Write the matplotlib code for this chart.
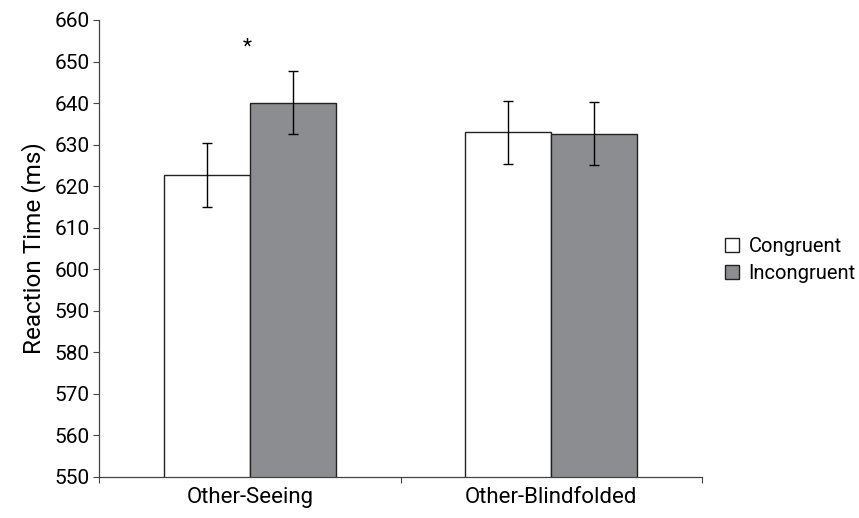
import numpy as np
import matplotlib.pyplot as plt
from matplotlib.patches import Patch

groups = ["Other-Seeing", "Other-Blindfolded"]
series = ["Congruent", "Incongruent"]
congruent = [622.7, 633.0]
incongruent = [640.1, 632.6]
congruent_err = [7.7, 7.6]
incongruent_err = [7.6, 7.6]
yticks = list(range(550, 661, 10))

plt.rcParams['font.family'] = ['Roboto', 'DejaVu Sans']

fig = plt.figure(figsize=(8.59, 5.18), dpi=100)
ax = fig.add_axes([0.1153, 0.0792, 0.7019, 0.8822])

x = np.arange(len(groups)) + 0.5
w = 0.286
ekw = dict(elinewidth=1.0, capthick=1.0, ecolor='black')
ax.bar(x - w / 2, congruent, w, color='white', edgecolor='#222222',
       linewidth=1.0, yerr=congruent_err, capsize=3.5, error_kw=ekw, zorder=2)
ax.bar(x + w / 2, incongruent, w, color='#8c8d90', edgecolor='#222222',
       linewidth=1.0, yerr=incongruent_err, capsize=3.5, error_kw=ekw, zorder=2)

ax.set_ylim(550, 660)
ax.set_xlim(0, 2)
ax.set_yticks(yticks)
ax.set_xticks(x)
ax.set_xticklabels(groups)
ax.set_xticks([0, 1, 2], minor=True)
ax.tick_params(axis='x', which='major', length=0, pad=7, labelsize=16)
ax.tick_params(axis='x', which='minor', length=4, width=0.8, color='#444444')
ax.tick_params(axis='y', length=4, width=0.8, color='#444444', labelsize=15, pad=3)
ax.spines['top'].set_visible(False)
ax.spines['right'].set_visible(False)
for s in ['left', 'bottom']:
    ax.spines[s].set_color('#444444')
    ax.spines[s].set_linewidth(0.9)
ax.set_ylabel("Reaction Time (ms)", fontsize=17.5, labelpad=6)

# significance marker
ax.text(x[0] - 0.01, 653.5, "*", ha='center', va='center', fontsize=15)

handles = [Patch(facecolor='white', edgecolor='#222222', label=series[0]),
           Patch(facecolor='#8c8d90', edgecolor='#222222', label=series[1])]
fig.legend(handles=handles, loc='center left', bbox_to_anchor=(0.835, 0.498),
           frameon=False, fontsize=14.5, handlelength=0.7, handleheight=0.7,
           handletextpad=0.45, labelspacing=0.4, borderaxespad=0)

fig.savefig("out.png", dpi=100)
